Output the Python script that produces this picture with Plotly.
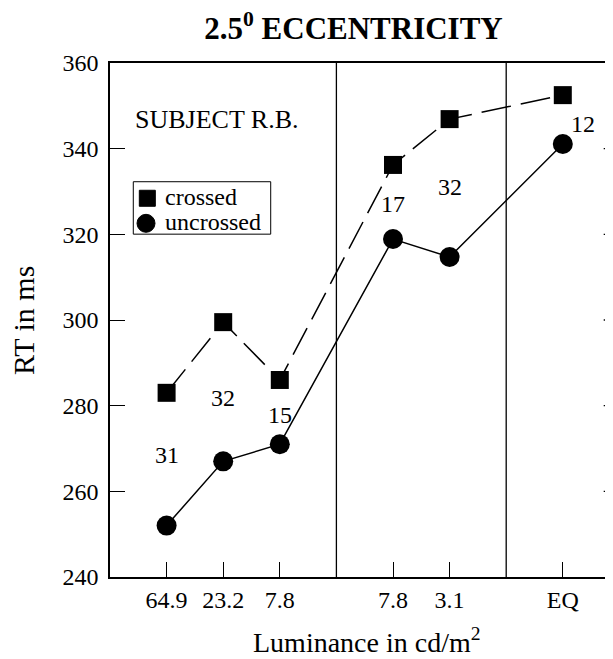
import plotly.graph_objects as go

# ---- data ----
tick_labels = ["64.9", "23.2", "7.8", "7.8", "3.1", "EQ"]
x_pos = [0, 1, 2, 4, 5, 7]            # category slots (gaps at panel separators)
separators = [3, 6]
crossed = [283.0, 299.5, 286.0, 336.2, 346.9, 352.5]
uncrossed = [252.0, 267.0, 271.0, 318.9, 314.7, 341.1]
n_labels = ["31", "32", "15", "17", "32", "12"]
n_label_x = [0, 1, 2, 4, 5, 7.36]
n_label_y = [268.4, 281.9, 277.9, 327.1, 331.0, 345.8]
y_ticks = [240, 260, 280, 300, 320, 340, 360]
series_names = ["crossed", "uncrossed"]
series_symbols = ["square", "circle"]

# legend placement (paper fractions of the plot area)
legend_sym_x = [0.0742, 0.0716]
legend_sym_y = [0.7368, 0.6881]
legend_txt_x = 0.106
legend_txt_y = [0.740, 0.691]

FONT = "Liberation Serif, Times New Roman, serif"
W, H = 605, 651   # page body adds an 8px offset

fig = go.Figure()
fig.add_trace(go.Scatter(x=x_pos, y=crossed, mode="lines+markers", name=series_names[0],
                         line=dict(color="black", width=1.5, dash="30px,10px"),
                         marker=dict(symbol=series_symbols[0], size=18, color="black"),
                         showlegend=False))
fig.add_trace(go.Scatter(x=x_pos, y=uncrossed, mode="lines+markers", name=series_names[1],
                         line=dict(color="black", width=1.5),
                         marker=dict(symbol=series_symbols[1], size=20, color="black"),
                         showlegend=False))
# legend symbols on an invisible overlay axis (0..1 = plot area)
fig.add_trace(go.Scatter(x=legend_sym_x, y=legend_sym_y, xaxis="x2", yaxis="y2",
                         mode="markers", showlegend=False, hoverinfo="skip",
                         marker=dict(symbol=series_symbols, size=[16, 18], color="black",
                                     opacity=1, line=dict(color="black", width=1))))

fig.add_shape(type="rect", xref="paper", yref="paper", x0=0.0463, x1=0.3195,
              y0=0.667, y1=0.769, line=dict(color="black", width=1), layer="above")
for name, ty in zip(series_names, legend_txt_y):
    fig.add_annotation(xref="paper", yref="paper", x=legend_txt_x, y=ty, text=name,
                       showarrow=False, xanchor="left", yanchor="middle",
                       font=dict(family=FONT, size=24, color="black"))

for lab, lx, ly in zip(n_labels, n_label_x, n_label_y):
    fig.add_annotation(x=lx, y=ly, text=lab, showarrow=False,
                       font=dict(family=FONT, size=24, color="black"))

fig.add_annotation(xref="paper", yref="paper", x=0.046, y=0.89, text="SUBJECT R.B.",
                   showarrow=False, xanchor="left", yanchor="middle",
                   font=dict(family=FONT, size=26, color="black"))

for s in separators:
    fig.add_shape(type="line", xref="x", yref="paper", x0=s, x1=s, y0=0, y1=1,
                  line=dict(color="black", width=1.3))

# right-side inward ticks (right frame edge is cropped off)
for yt in y_ticks[1:-1]:
    fig.add_shape(type="line", xref="paper", yref="y", x0=0.9815, x1=1.0, y0=yt, y1=yt,
                  line=dict(color="black", width=1.3))

fig.add_annotation(xref="paper", yref="paper", x=0.511, y=-0.123,
                   text="Luminance in cd/m<sup>2</sup>", showarrow=False,
                   xanchor="center", yanchor="middle",
                   font=dict(family=FONT, size=28, color="black"))
fig.add_annotation(xref="paper", yref="paper", x=-0.173, y=0.5, textangle=-90,
                   text="RT in ms", showarrow=False, xanchor="center", yanchor="middle",
                   font=dict(family=FONT, size=30, color="black"))

fig.update_layout(
    width=W, height=H,
    margin=dict(l=102, r=0, t=55, b=82),
    paper_bgcolor="white", plot_bgcolor="white",
    showlegend=False,
    title=dict(text="<b>2.5<sup>0</sup> ECCENTRICITY</b>", x=345.5 / W, xanchor="center",
               y=1 - 20 / H, yanchor="middle", yref="container",
               font=dict(family=FONT, size=31, color="black")),
    xaxis=dict(range=[-1, 7.887], tickvals=x_pos, ticktext=tick_labels,
               ticks="inside", ticklen=15, tickwidth=1.3, tickcolor="black",
               showline=True, linecolor="black", linewidth=1.5, mirror=True,
               showgrid=False, zeroline=False, ticklabelstandoff=0,
               tickfont=dict(family=FONT, size=24, color="black")),
    yaxis=dict(range=[240, 360], tickvals=y_ticks,
               ticks="inside", ticklen=15, tickwidth=1.3, tickcolor="black",
               showline=True, linecolor="black", linewidth=1.5,
               showgrid=False, zeroline=False, ticklabelstandoff=5,
               tickfont=dict(family=FONT, size=24, color="black")),
    xaxis2=dict(overlaying="x", range=[0, 1], visible=False, fixedrange=True),
    yaxis2=dict(overlaying="y", range=[0, 1], visible=False, fixedrange=True),
)

fig.write_html("out.html")
